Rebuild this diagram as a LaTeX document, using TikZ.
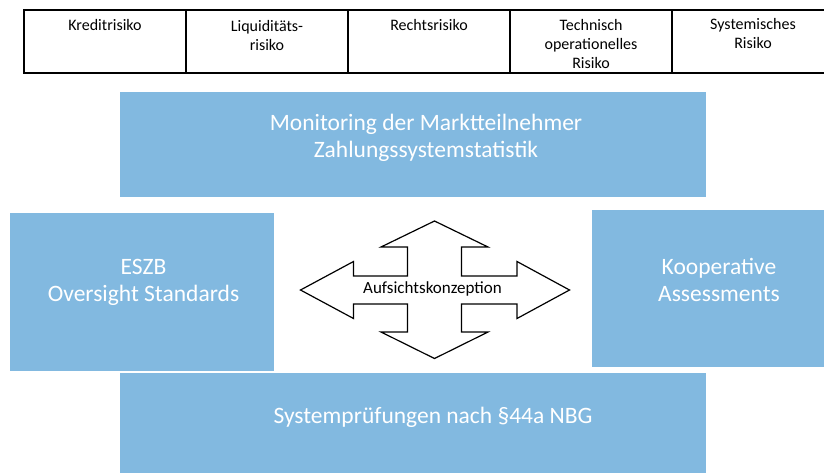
\documentclass[tikz,border=0pt]{standalone}
\usepackage{fontspec}
\setmainfont{Carlito}
\usetikzlibrary{positioning}
\definecolor{feldblau}{RGB}{130,185,224}
\tikzset{%
	risk/.style={draw, rectangle, line width=1.5pt, minimum width=162pt, minimum height=63pt,%
		inner sep=0pt, outer sep=0pt},
	risktext/.style={align=center, inner sep=0pt, font=\fontsize{16}{19}\selectfont},
	feld/.style={rectangle, fill=feldblau, inner sep=0pt, outer sep=0pt},
	feldtext/.style={text=white, align=center, font=\fontsize{23.5}{27}\selectfont},
	cross/.style={draw, line width=1.2pt, fill=white, line join=miter},
	crosstext/.style={font=\fontsize{17}{20}\selectfont}
}
\begin{document}
\begin{tikzpicture}[x=1pt, y=-1pt]
	\useasboundingbox (0,0) rectangle (824,472);
	\clip (0,0) rectangle (824,472);

	% risk table
	\node[risk]                       (kredit) at (105,41.5) {};
	\node[risk, right=0pt of kredit]  (liquiditaet) {};
	\node[risk, right=0pt of liquiditaet] (recht) {};
	\node[risk, right=0pt of recht]   (technik) {};
	\node[risk, right=0pt of technik] (system) {};

	\node[risktext, below=9pt of kredit.north]       (kredittext) {Kreditrisiko};
	\node[risktext, below=10pt of liquiditaet.north] (liquiditaettext) {Liquiditäts-\\risiko};
	\node[risktext, below=9pt of recht.north]        (rechttext) {Rechtsrisiko};
	\node[risktext, below=9.5pt of technik.north]    (techniktext) {Technisch\\operationelles\\Risiko};
	\node[risktext, below=8pt of system.north]       (systemtext) {Systemisches\\Risiko};

	% blue fields
	\node[feld, minimum width=586pt, minimum height=105pt] (monitoring) at (413,144.5) {};
	\node[feld, minimum width=264pt, minimum height=158pt] (eszb) at (142,292) {};
	\node[feld, minimum width=254pt, minimum height=157pt] (kooperativ) at (719,288.5) {};
	\node[feld, minimum width=586pt, minimum height=105pt] (pruefung) at (413,425.5) {};

	\node[feldtext] (monitoringtext) at (426,138) {Monitoring der Marktteilnehmer\\Zahlungssystemstatistik};
	\node[feldtext] (eszbtext) at (143.5,282.5) {ESZB\\Oversight Standards};
	\node[feldtext] (kooperativtext) at (719,279.5) {Kooperative\\Assessments};
	\node[feldtext] (pruefungtext) at (433,417) {Systemprüfungen nach §44a NBG};

	% cross arrow
	\coordinate (mitte) at (434.5,290);
	\draw[cross, shift={(mitte)}] (0,-69) -- (53.5,-43) -- (27,-43) -- (27,-14) -- (82.5,-14)
		-- (82.5,-28.5) -- (135,0) -- (82.5,28.5) -- (82.5,14) -- (27,14) -- (27,42)
		-- (53.5,42) -- (0,68.5) -- (-53.5,42) -- (-27,42) -- (-27,14) -- (-81,14)
		-- (-81,28.5) -- (-134,0) -- (-81,-28.5) -- (-81,-14) -- (-27,-14) -- (-27,-43)
		-- (-53.5,-43) -- cycle;
	\node[crosstext] (aufsicht) at (432.5,289) {Aufsichtskonzeption};
\end{tikzpicture}
\end{document}
